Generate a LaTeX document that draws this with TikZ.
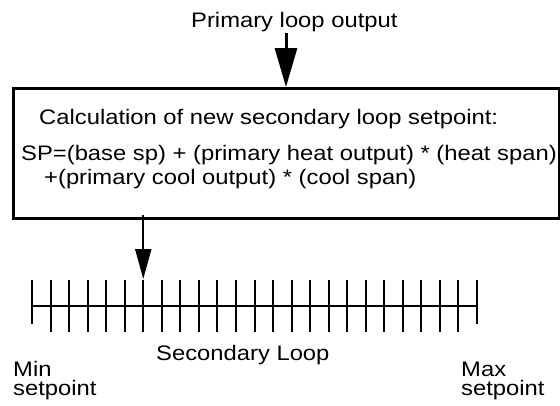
\documentclass[tikz,border=0pt]{standalone}
\usepackage{fontspec}
\setmainfont{Liberation Sans}
\newfontfamily\lblfont[FakeStretch=1.133]{Liberation Sans}
\usetikzlibrary{arrows.meta,calc}
\tikzset{
  lbl/.style={anchor=base west, inner sep=0pt, font=\lblfont\fontsize{21}{21}\selectfont},
  bigarrow/.style={line width=3pt, -{Triangle[length=39pt, width=22pt]}},
  smallarrow/.style={line width=2pt, -{Triangle[length=30pt, width=16pt]}},
  calcbox/.style={draw, line width=3pt, inner sep=0pt, anchor=north west, minimum width=546pt, minimum height=130pt},
  scaleline/.style={line width=2pt}
}
\begin{document}
\begin{tikzpicture}[x=1pt, y=-1pt]
\useasboundingbox (0,0) rectangle (560,405);
% top label and box
\node[lbl] (title) at (191,27) {Primary loop output};
\node[calcbox] (box) at (12,87) {};
\node[lbl] (calc) at (39,124) {Calculation of new secondary loop setpoint:};
\node[lbl] (sp1) at (21,160) {SP=(base sp) + (primary heat output) * (heat span)};
\node[lbl] (sp2) at (44,184) {+(primary cool output) * (cool span)};
% top arrow
\coordinate (topstart) at (286,33);
\draw[bigarrow] (topstart) -- (topstart |- box.north);
% scale
\coordinate (sl) at (32,306);
\coordinate (sr) at (477,306);
\draw[scaleline] (sl) -- (sr);
\foreach \i in {1,...,23} {
  \draw[scaleline] ($(sl)!\i/24!(sr)$) ++(0,-26) -- ++(0,52);
}
\draw[scaleline] (sl) ++(0,-26) -- ++(0,44);
\draw[scaleline] (sr) ++(0,-26) -- ++(0,44);
% bottom arrow
\coordinate (tip) at ($(sl)!6/24!(sr) + (0,-27)$);
\draw[smallarrow] ($(tip |- box.south) + (0,-5)$) -- (tip);
% labels
\node[lbl] (sec) at (156,360) {Secondary Loop};
\node[lbl] (minl) at (13,376) {Min};
\node[lbl] (minl2) at (13,395) {setpoint};
\node[lbl] (maxl) at (461,376) {Max};
\node[lbl] (maxl2) at (461,395) {setpoint};
\end{tikzpicture}
\end{document}
